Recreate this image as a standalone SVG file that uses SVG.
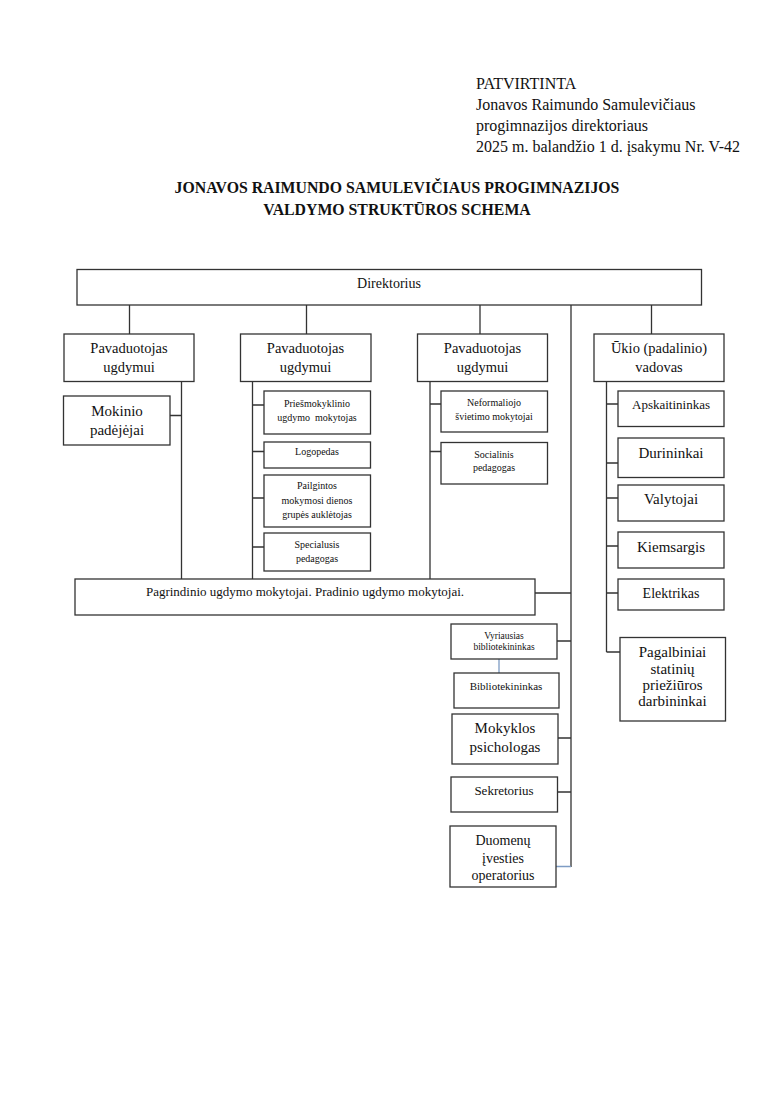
<svg xmlns="http://www.w3.org/2000/svg" width="780" height="1104" viewBox="0 0 780 1104">
<style>
text{font-family:"Liberation Serif","Times New Roman",serif;fill:#111;}
.c{text-anchor:middle;}
.b{fill:#fff;stroke:#333;stroke-width:1.3;}
.l{stroke:#333;stroke-width:1.3;fill:none;}
.lb{stroke:#7e9cc4;stroke-width:1.3;fill:none;}
.f15{font-size:15px;}
.p{font-size:14.5px;}
.f14{font-size:14px;}
.f13{font-size:13px;}
.f10{font-size:10px;}
</style>
<rect width="780" height="1104" fill="#fff"/>
<g id="header" font-size="16">
<text x="476" y="89">PATVIRTINTA</text>
<text x="476" y="110">Jonavos Raimundo Samulevičiaus</text>
<text x="476" y="131">progimnazijos direktoriaus</text>
<text x="476" y="152">2025 m. balandžio 1 d. įsakymu Nr. V-42</text>
</g>
<g id="title" class="c" font-weight="bold" font-size="15.8">
<text x="397" y="193">JONAVOS RAIMUNDO SAMULEVIČIAUS PROGIMNAZIJOS</text>
<text x="397" y="215">VALDYMO STRUKTŪROS SCHEMA</text>
</g>
<g id="connectors">
<path class="l" d="M129.5 305V334M306.5 305V334M480 305V334M651.5 305V334M571 305V867"/>
<path class="l" d="M181.5 381V579M170 415.5H181.5"/>
<path class="l" d="M252.5 381V579M252.5 405H264M252.5 451.5H264M252.5 498H264M252.5 547H264"/>
<path class="l" d="M430 381V579M430 404H441M430 451.5H441"/>
<path class="l" d="M606.5 381V652M606.5 404H618M606.5 463H618M606.5 498H618M606.5 546H618M606.5 593H618M606.5 652H620"/>
<path class="l" d="M535 593H571M557 641H571M558 738H571M557.5 792H571"/>
<path class="lb" d="M499 659V673M556 866.5H571"/>
</g>
<g id="n-direktorius"><rect class="b" x="77" y="269.5" width="624.5" height="35.5"/><text class="c f14" x="389" y="288">Direktorius</text></g>
<g id="n-pav1"><rect class="b" x="64" y="334" width="130" height="47.5"/><text class="c p" x="129" y="353">Pavaduotojas</text><text class="c p" x="129" y="372">ugdymui</text></g>
<g id="n-pav2"><rect class="b" x="240.5" y="334" width="130.5" height="47.5"/><text class="c p" x="305.5" y="353">Pavaduotojas</text><text class="c p" x="305.5" y="372">ugdymui</text></g>
<g id="n-pav3"><rect class="b" x="417.5" y="334" width="130" height="47.5"/><text class="c p" x="482.5" y="353">Pavaduotojas</text><text class="c p" x="482.5" y="372">ugdymui</text></g>
<g id="n-ukio"><rect class="b" x="594" y="334" width="130" height="47.5"/><text class="c p" x="659" y="353">Ūkio (padalinio)</text><text class="c p" x="659" y="372">vadovas</text></g>
<g id="n-mokinio"><rect class="b" x="63.5" y="396" width="106.5" height="49"/><text class="c f15" x="117" y="416">Mokinio</text><text class="c f15" x="117" y="435">padėjėjai</text></g>
<g id="n-priesmok"><rect class="b" x="264" y="391" width="106.5" height="43"/><text class="c f10" x="317" y="407">Priešmokyklinio</text><text class="c f10" x="317" y="421" xml:space="preserve">ugdymo  mokytojas</text></g>
<g id="n-logopedas"><rect class="b" x="264" y="442" width="106.5" height="26"/><text class="c f10" x="317" y="455">Logopedas</text></g>
<g id="n-pailgintos"><rect class="b" x="264" y="475" width="106.5" height="52"/><text class="c f10" x="317" y="489">Pailgintos</text><text class="c f10" x="317" y="504">mokymosi dienos</text><text class="c f10" x="317" y="518">grupės auklėtojas</text></g>
<g id="n-specialusis"><rect class="b" x="264" y="533" width="106.5" height="38"/><text class="c f10" x="317" y="548">Specialusis</text><text class="c f10" x="317" y="562">pedagogas</text></g>
<g id="n-neformaliojo"><rect class="b" x="441" y="391" width="106.5" height="41"/><text class="c f10" x="494" y="406">Neformaliojo</text><text class="c f10" x="494" y="420">švietimo mokytojai</text></g>
<g id="n-socialinis"><rect class="b" x="441" y="442.5" width="106.5" height="41.5"/><text class="c f10" x="494" y="458">Socialinis</text><text class="c f10" x="494" y="471">pedagogas</text></g>
<g id="n-apskaitininkas"><rect class="b" x="618" y="391" width="106" height="35.5"/><text class="c f13" x="671" y="409">Apskaitininkas</text></g>
<g id="n-durininkai"><rect class="b" x="618" y="438" width="106" height="39.5"/><text class="c f15" x="671" y="458">Durininkai</text></g>
<g id="n-valytojai"><rect class="b" x="618" y="485" width="106" height="36"/><text class="c f15" x="671" y="504">Valytojai</text></g>
<g id="n-kiemsargis"><rect class="b" x="618" y="532" width="106" height="36"/><text class="c f15" x="671" y="552">Kiemsargis</text></g>
<g id="n-elektrikas"><rect class="b" x="618" y="579" width="106" height="31"/><text class="c f14" x="671" y="598">Elektrikas</text></g>
<g id="n-pagalbiniai"><rect class="b" x="620" y="637.5" width="105.5" height="83.5"/><text class="c f15" x="672.5" y="657">Pagalbiniai</text><text class="c f15" x="672.5" y="674">statinių</text><text class="c f15" x="672.5" y="690">priežiūros</text><text class="c f15" x="672.5" y="706">darbininkai</text></g>
<g id="n-pagrindinio"><rect class="b" x="75" y="579" width="460" height="36"/><text class="c f13" x="305" y="596">Pagrindinio ugdymo mokytojai. Pradinio ugdymo mokytojai.</text></g>
<g id="n-vyriausias"><rect class="b" x="451" y="624" width="106" height="35"/><text class="c" font-size="9.5" x="504" y="639">Vyriausias</text><text class="c" font-size="9.5" x="504" y="650">bibliotekininkas</text></g>
<g id="n-bibliotekininkas"><rect class="b" x="454" y="673" width="105" height="35"/><text class="c" font-size="11" x="506" y="690">Bibliotekininkas</text></g>
<g id="n-psichologas"><rect class="b" x="452" y="714" width="106" height="50"/><text class="c f15" x="505" y="733">Mokyklos</text><text class="c f15" x="505" y="752">psichologas</text></g>
<g id="n-sekretorius"><rect class="b" x="451" y="777" width="106.5" height="35"/><text class="c f13" x="504" y="795">Sekretorius</text></g>
<g id="n-duomenu"><rect class="b" x="450" y="826" width="106" height="61"/><text class="c f14" x="503" y="845">Duomenų</text><text class="c f14" x="503" y="863">įvesties</text><text class="c f14" x="503" y="880">operatorius</text></g>
</svg>
